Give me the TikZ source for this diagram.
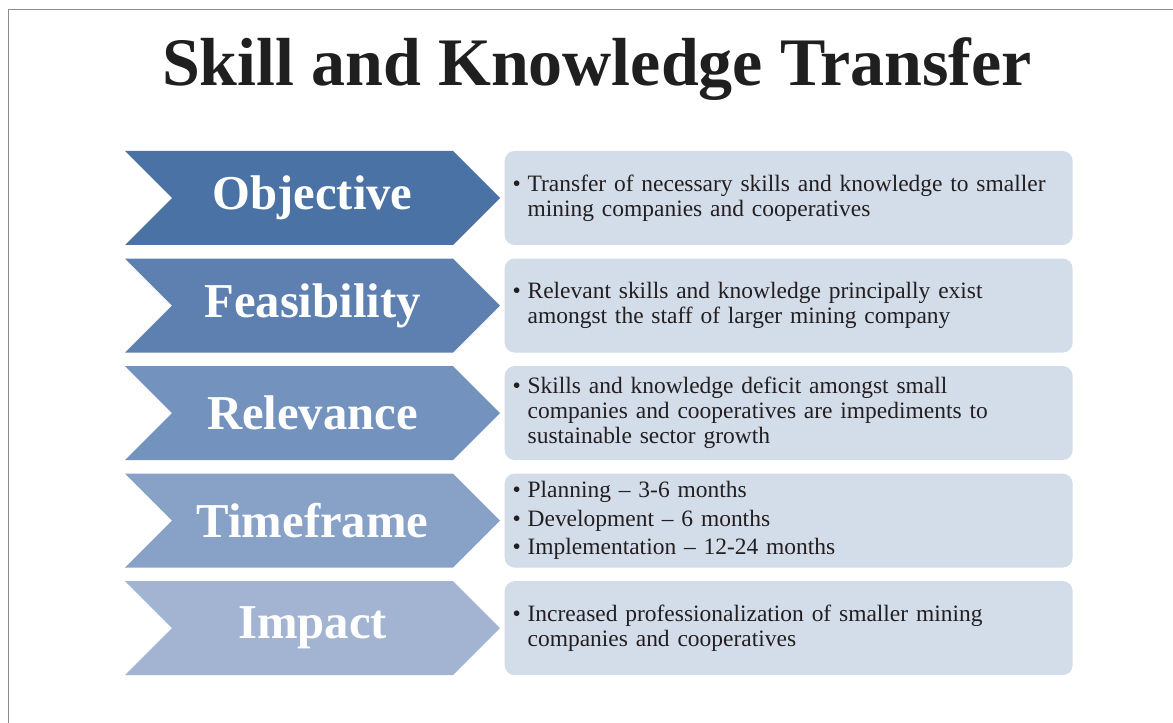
\documentclass[tikz,border=0pt]{standalone}
\usepackage{fontspec}
\setmainfont{Liberation Serif}
\usepackage{tikz}
\usetikzlibrary{positioning, shapes.symbols}

\definecolor{chevA}{RGB}{74,114,165}
\definecolor{chevB}{RGB}{93,128,176}
\definecolor{chevC}{RGB}{116,146,190}
\definecolor{chevD}{RGB}{136,161,199}
\definecolor{chevE}{RGB}{163,179,210}
\definecolor{boxfill}{RGB}{211,220,233}
\definecolor{bodytext}{RGB}{35,31,32}

\newcommand{\bul}{\makebox[11.25pt][l]{\textbullet}}
\newcommand{\nobul}{\hspace*{11.25pt}}

\begin{document}
\begin{tikzpicture}[
    x=0.75pt, y=-0.75pt,
    node distance = 9.75pt and 3pt,
    chevron/.style = {signal, signal from=west, signal to=east, signal pointer angle=90, minimum width=281.25pt, minimum height=70.5pt, inner sep=0pt, text=white, font=\bfseries\fontsize{36.5}{36.5}\selectfont},
    info/.style = {rectangle, rounded corners=7.5pt, fill=boxfill, minimum width=426pt, minimum height=70.5pt, inner xsep=6pt, inner ysep=0pt, text width=414pt, align=left, text=bodytext, font=\fontsize{17.6}{18.75}\selectfont}
]
\useasboundingbox (0,0) rectangle (1173,723);
\draw[black!45, line width=0.75pt] (8,723) -- (8,10) -- (1173,10);

% Title
    \node[anchor=base, font=\bfseries\fontsize{51}{51}\selectfont, text=black!88] (title) at (597,86) {Skill and Knowledge Transfer};

% Chevrons
    \node[chevron, fill=chevA] (chev1) at (312.5,198) {Objective};
    \node[chevron, fill=chevB, below=of chev1] (chev2) {Feasibility};
    \node[chevron, fill=chevC, below=of chev2] (chev3) {Relevance};
    \node[chevron, fill=chevD, below=of chev3] (chev4) {Timeframe};
    \node[chevron, fill=chevE, below=of chev4] (chev5) {Impact};

% Boxes
    \node[info, right=of chev1] (info1) {\bul Transfer of necessary skills and knowledge to smaller\\ \nobul mining companies and cooperatives};
    \node[info, right=of chev2] (info2) {\bul Relevant skills and knowledge principally exist\\ \nobul amongst the staff of larger mining company};
    \node[info, right=of chev3] (info3) {\bul Skills and knowledge deficit amongst small\\ \nobul companies and cooperatives are impediments to\\ \nobul sustainable sector growth};
    \node[info, right=of chev4] (info4) {\bul Planning -- 3-6 months\\[2.5pt] \bul Development -- 6 months\\[2.5pt] \bul Implementation -- 12-24 months};
    \node[info, right=of chev5] (info5) {\bul Increased professionalization of smaller mining\\ \nobul companies and cooperatives};
\end{tikzpicture}
\end{document}
